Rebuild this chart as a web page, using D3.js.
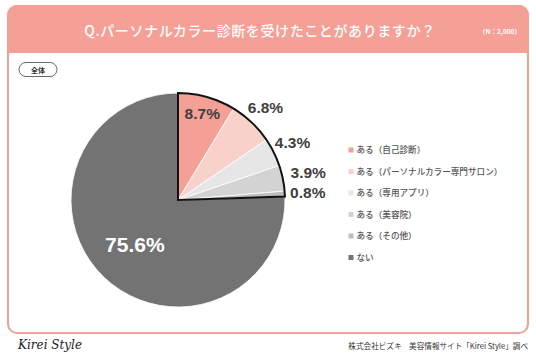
<!DOCTYPE html>
<html><head><meta charset="utf-8">
<script src="https://cdn.jsdelivr.net/npm/d3@7"></script>
<style>
html,body{margin:0;padding:0;background:#fff;}
svg{display:block;}
</style></head>
<body>
<script>
const categories = ["ある（自己診断）","ある（パーソナルカラー専門サロン）","ある（専用アプリ）","ある（美容院）","ある（その他）","ない"];
const values = [8.7, 6.8, 4.3, 3.9, 0.8, 75.6];
const colors = ["#F4A096","#F9D1CB","#E6E6E6","#D3D3D3","#BDBDBD","#737373"];
const labelRadius = [90, 127, 128, 133, 130, 62];
const labelColors = ["#3f3f3f","#3f3f3f","#3f3f3f","#3f3f3f","#3f3f3f","#ffffff"];
const title = "Q.パーソナルカラー診断を受けたことがありますか？";
const nLabel = "（N：2,000）";
const groupLabel = "全体";
const source = "株式会社ビズキ　美容情報サイト「Kirei Style」調べ";

const W = 536, H = 357;
const svg = d3.select("body").append("svg").attr("width", W).attr("height", H);
const accent = "#F4A096";
const jp = "'Noto Sans CJK JP','Noto Sans',sans-serif";

// panel
svg.append("rect").attr("x", 8).attr("y", 6).attr("width", 520).attr("height", 327)
  .attr("rx", 9).attr("fill", "#fff").attr("stroke", accent).attr("stroke-width", 2);
// header band
const hp = d3.path();
hp.moveTo(8, 52); hp.lineTo(8, 15); hp.arcTo(8, 6, 17, 6, 9); hp.lineTo(519, 6); hp.arcTo(528, 6, 528, 15, 9); hp.lineTo(528, 52); hp.closePath();
svg.append("path").attr("d", hp.toString()).attr("fill", accent).attr("stroke", accent).attr("stroke-width", 2);

svg.append("text").attr("x", 260).attr("y", 36).attr("text-anchor", "middle")
  .attr("fill", "#fff").attr("font-family", jp).attr("font-size", 14).attr("font-weight", 500)
  .attr("letter-spacing", 0.6).text(title);
svg.append("text").attr("x", 500).attr("y", 34).attr("text-anchor", "middle")
  .attr("fill", "#fff").attr("font-family", jp).attr("font-size", 6.5).attr("font-weight", 700).text(nLabel);

// group pill
svg.append("rect").attr("x", 19).attr("y", 62.5).attr("width", 38).attr("height", 14).attr("rx", 7)
  .attr("fill", "#fff").attr("stroke", "#444").attr("stroke-width", 0.8);
svg.append("text").attr("x", 38).attr("y", 72.5).attr("text-anchor", "middle")
  .attr("fill", "#333").attr("font-family", jp).attr("font-size", 7).attr("font-weight", 700).text(groupLabel);

// pie
const cx = 178, cy = 200, R = 107;
const g = svg.append("g").attr("transform", `translate(${cx},${cy})`);
const data = values.map((v, i) => ({v, i}));
const pie = d3.pie().value(d => d.v).sort(null);
const arcs = pie(data);
const arc = d3.arc().innerRadius(0).outerRadius(R);
g.selectAll("path.slice").data(arcs).join("path").attr("class", "slice")
  .attr("d", arc).attr("fill", d => colors[d.data.i]).attr("stroke", "#fff").attr("stroke-width", 0.8);

// outline around "ある" group
const yesArcs = arcs.slice(0, 5);
const outline = d3.arc().innerRadius(0).outerRadius(R)
  .startAngle(yesArcs[0].startAngle).endAngle(yesArcs[yesArcs.length - 1].endAngle);
g.append("path").attr("d", outline()).attr("fill", "none").attr("stroke", "#111").attr("stroke-width", 2).attr("stroke-linejoin", "miter");

// labels
g.selectAll("text.lbl").data(arcs).join("text").attr("class", "lbl")
  .attr("transform", d => {
    const a = (d.startAngle + d.endAngle) / 2;
    const r = labelRadius[d.data.i];
    return `translate(${Math.sin(a) * r},${-Math.cos(a) * r})`;
  })
  .attr("text-anchor", "middle").attr("dy", "0.36em")
  .attr("fill", d => labelColors[d.data.i])
  .attr("font-family", "'Liberation Sans',Arial,sans-serif").attr("font-weight", 700)
  .attr("font-size", d => d.data.i === 5 ? 21 : 15.5)
  .text(d => d3.format(".1f")(d.data.v) + "%");

// legend
const ly = d3.scalePoint().domain(categories).range([150, 257.5]);
const lg = svg.append("g");
categories.forEach((c, i) => {
  lg.append("rect").attr("x", 348.5).attr("y", ly(c) - 2.5).attr("width", 5).attr("height", 5).attr("fill", colors[i]);
  lg.append("text").attr("x", 356.5).attr("y", ly(c)).attr("dy", "0.35em")
    .attr("fill", "#555").attr("font-family", jp).attr("font-size", 8.6).attr("font-weight", 500).text(c);
});

// footer
svg.append("text").attr("x", 18).attr("y", 349).attr("fill", "#222")
  .attr("font-family", "'DejaVu Serif','Liberation Serif',serif").attr("font-style", "italic")
  .attr("font-size", 12).text("Kirei Style");
svg.append("text").attr("x", 528).attr("y", 348.5).attr("text-anchor", "end").attr("fill", "#333")
  .attr("font-family", jp).attr("font-size", 7.6).text(source);
</script>
</body></html>
